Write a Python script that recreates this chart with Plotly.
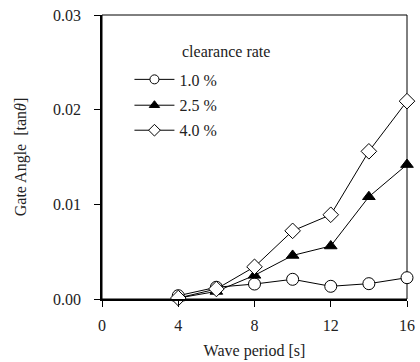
import plotly.graph_objects as go

periods = [4, 6, 8, 10, 12, 14, 16]
rate_10 = [0.00035, 0.00124, 0.00158, 0.00208, 0.00134, 0.00162, 0.00225]
rate_25 = [0.0001, 0.0008, 0.0025, 0.0046, 0.0056, 0.0108, 0.0142]
rate_40 = [0.0001, 0.00106, 0.0034, 0.0072, 0.0089, 0.0156, 0.0209]
series_names = ["1.0 %", "2.5 %", "4.0 %"]
x_ticks = [0, 4, 8, 12, 16]
y_ticks = [0.00, 0.01, 0.02, 0.03]
y_tick_labels = ["0.00", "0.01", "0.02", "0.03"]

FONT = "Liberation Serif, Times New Roman, serif"
FS = 16
TXT = "#222"

fig = go.Figure()
styles = [
    dict(symbol="circle", color="white", size=12, lsize=9),
    dict(symbol="triangle-up", color="black", size=11, lsize=9),
    dict(symbol="diamond", color="white", size=12, lsize=9),
]
for i, (name, ys, st) in enumerate(zip(series_names, [rate_10, rate_25, rate_40], styles)):
    fig.add_trace(go.Scatter(
        x=periods, y=ys, name=name, mode="lines+markers",
        line=dict(color="black", width=1),
        marker=dict(symbol=st["symbol"], size=st["size"], color=st["color"],
                    line=dict(color="black", width=1)),
        cliponaxis=False, showlegend=False,
    ))
    # legend-only entry with smaller symbol
    fig.add_trace(go.Scatter(
        x=[None], y=[None], name=name, mode="lines+markers",
        line=dict(color="black", width=1),
        marker=dict(symbol=st["symbol"], size=st["lsize"], color=st["color"],
                    line=dict(color="black", width=1)),
        showlegend=True, hoverinfo="skip",
        legend="legend" if i == 0 else f"legend{i+1}",
    ))

leg_common = dict(font=dict(family=FONT, size=FS, color=TXT), bgcolor="rgba(0,0,0,0)",
                  itemwidth=40, xanchor="left", yanchor="middle", x=0.09)
fig.update_layout(
    width=420, height=362,
    margin=dict(l=102, r=13, t=15, b=63),
    paper_bgcolor="white", plot_bgcolor="white",
    font=dict(family=FONT, size=FS, color=TXT),
    legend=dict(**leg_common, y=0.773),
    legend2=dict(**leg_common, y=0.682),
    legend3=dict(**leg_common, y=0.594),
    xaxis=dict(range=[0, 16], tickvals=x_ticks, ticks="outside", ticklen=6, tickwidth=1,
               tickcolor="black", showline=True, linecolor="black", linewidth=1.5,
               showgrid=False, zeroline=False, ticklabelstandoff=5, automargin=False,
               title=dict(text="Wave period [s]", font=dict(size=FS), standoff=12)),
    yaxis=dict(range=[0, 0.03], tickvals=y_ticks, ticktext=y_tick_labels, ticks="outside",
               ticklen=6, tickwidth=1, tickcolor="black", showline=True, linecolor="black",
               linewidth=1.5, showgrid=False, zeroline=False, ticklabelstandoff=10,
               automargin=False,
               title=dict(text="Gate Angle  [tan<i>θ</i>]", font=dict(size=FS), standoff=22)),
    showlegend=True,
    annotations=[dict(text="clearance rate", xref="paper", yref="paper", x=0.256, y=0.87,
                      xanchor="left", yanchor="middle", showarrow=False,
                      font=dict(family=FONT, size=FS, color=TXT))],
    shapes=[dict(type="rect", xref="paper", yref="paper", x0=0, y0=0, x1=1, y1=1,
                 line=dict(color="black", width=1), layer="below")],
)
fig.write_html("out.html", config={"displayModeBar": False},
               post_script="document.body.style.margin='0';document.body.style.padding='0';"
                           "document.body.style.overflow='hidden';"
                           "document.documentElement.style.overflow='hidden';")
